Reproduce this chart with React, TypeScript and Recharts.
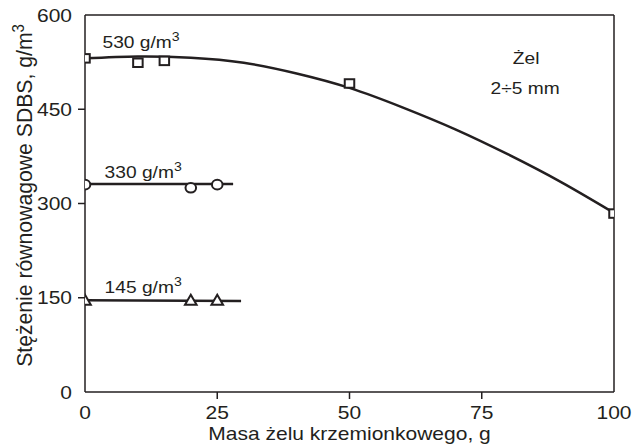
import React from 'react';
import { ComposedChart, Line, Scatter, XAxis, YAxis, ReferenceLine, ReferenceDot } from 'recharts';

const xTicks = [0, 25, 50, 75, 100];
const yTicks = [0, 150, 300, 450, 600];

const squareX = [0, 10, 15, 50, 100];
const squareY = [531, 524, 527, 491, 284];
const circleX = [0, 20, 25];
const circleY = [330, 325, 330];
const triangleX = [0, 20, 25];
const triangleY = [146, 146, 146];

const curve530X = [0, 10, 20, 30, 40, 50, 60, 70, 80, 90, 100];
const curve530Y = [531, 534, 532, 524, 507, 484, 453, 418, 378, 334, 285];
const line330X = [0, 28];
const line330Y = [331, 331];
const line145X = [0, 29.5];
const line145Y = [146, 145];

const labelTexts = ['530 g/m', '330 g/m', '145 g/m'];
const labelX = [3.3, 3.7, 3.7];
const labelY = [547, 340, 158];

const noteTexts = ['Żel', '2÷5 mm'];
const noteX = [83.4, 83.2];
const noteY = [522, 474];

const zip = (xs: number[], ys: number[]) => xs.map((x, i) => ({ x, y: ys[i] }));

const INK = '#231f20';
const FONT = '"Liberation Sans", Arial, sans-serif';
const SX = 1.13;

const ST = ({ x, y, size, anchor = 'start', dy, rotate = false, children }: any) => (
  <text
    transform={rotate ? `translate(${x} ${y}) rotate(-90) scale(1 1.06)` : `translate(${x} ${y}) scale(${SX} 1)`}
    x={0}
    y={0}
    dy={dy}
    textAnchor={anchor}
    fontSize={size}
    fontFamily={FONT}
    fill={INK}
  >
    {children}
  </text>
);

const Square = (p: any) => (
  <rect x={p.cx - 4.75} y={p.cy - 4.25} width={9.5} height={8.5} fill="#fff" stroke={INK} strokeWidth={2} />
);
const Circ = (p: any) => <ellipse cx={p.cx} cy={p.cy} rx={5.3} ry={4.8} fill="#fff" stroke={INK} strokeWidth={2} />;
const Tri = (p: any) => (
  <polygon
    points={`${p.cx - 5.8},${p.cy + 4.5} ${p.cx + 5.8},${p.cy + 4.5} ${p.cx},${p.cy - 5.5}`}
    fill="#fff"
    stroke={INK}
    strokeWidth={2}
  />
);

const YTick = (p: any) => {
  const v = p.payload.value;
  const axisX = p.x + 13;
  return (
    <g>
      {v !== 0 && v !== 600 && <line x1={axisX - 7} x2={axisX} y1={p.y} y2={p.y} stroke={INK} strokeWidth={1.5} />}
      <ST x={p.x} y={p.y} dy="0.36em" anchor="end" size={18.6}>
        {v}
      </ST>
    </g>
  );
};

const XTick = (p: any) => {
  const v = p.payload.value;
  const axisY = p.y - 14;
  return (
    <g>
      {v !== 0 && v !== 100 && <line x1={p.x} x2={p.x} y1={axisY} y2={axisY + 7} stroke={INK} strokeWidth={1.5} />}
      <ST x={p.x} y={p.y} dy="0.71em" anchor="middle" size={18.6}>
        {v}
      </ST>
    </g>
  );
};

const SupLabel = (text: string) => (props: any) => {
  const vb = props.viewBox || {};
  return (
    <ST x={vb.x} y={vb.y} size={17}>
      {text}
      <tspan dy={-7} fontSize={12.5}>3</tspan>
    </ST>
  );
};

const NoteLabel = (text: string) => (props: any) => {
  const vb = props.viewBox || {};
  return (
    <ST x={vb.x} y={vb.y} size={17} anchor="middle">
      {text}
    </ST>
  );
};

const YTitle = (props: any) => {
  const vb = props.viewBox || {};
  const x = vb.x + 32;
  const y = vb.y + vb.height / 2 - 8;
  return (
    <ST x={x} y={y} size={21.2} anchor="middle" rotate>
      Stężenie równowagowe SDBS, g/m
      <tspan dy={-8} fontSize={15}>3</tspan>
    </ST>
  );
};

const XTitle = (props: any) => {
  const vb = props.viewBox || {};
  return (
    <ST x={vb.x + vb.width / 2} y={vb.y + 48} size={18.6} anchor="middle">
      Masa żelu krzemionkowego, g
    </ST>
  );
};

export default function App() {
  return (
    <div style={{ position: 'absolute', left: 0, top: 0, background: '#fff' }}>
      <ComposedChart width={644} height={446} margin={{ top: 15, right: 30, bottom: 0, left: 0 }}>
        <XAxis
          dataKey="x"
          type="number"
          domain={[0, 100]}
          ticks={xTicks}
          tickSize={7}
          tickMargin={7}
          tickLine={false}
          height={54}
          axisLine={{ stroke: INK, strokeWidth: 1.5 }}
          tick={<XTick />}
          label={<XTitle />}
          allowDataOverflow
        />
        <YAxis
          dataKey="y"
          type="number"
          domain={[0, 600]}
          ticks={yTicks}
          tickSize={7}
          tickMargin={6}
          tickLine={false}
          width={85}
          axisLine={{ stroke: INK, strokeWidth: 1.5 }}
          tick={<YTick />}
          label={<YTitle />}
          allowDataOverflow
        />
        <ReferenceLine y={600} stroke={INK} strokeWidth={1.5} />
        <ReferenceLine x={100} stroke={INK} strokeWidth={1.5} />
        <Line data={zip(curve530X, curve530Y)} dataKey="y" type="natural" stroke={INK} strokeWidth={2.5} dot={false} isAnimationActive={false} />
        <Line data={zip(line330X, line330Y)} dataKey="y" type="linear" stroke={INK} strokeWidth={2.5} dot={false} isAnimationActive={false} />
        <Line data={zip(line145X, line145Y)} dataKey="y" type="linear" stroke={INK} strokeWidth={2.5} dot={false} isAnimationActive={false} />
        <Scatter data={zip(squareX, squareY)} dataKey="y" shape={Square} isAnimationActive={false} />
        <Scatter data={zip(circleX, circleY)} dataKey="y" shape={Circ} isAnimationActive={false} />
        <Scatter data={zip(triangleX, triangleY)} dataKey="y" shape={Tri} isAnimationActive={false} />
        {labelTexts.map((t, i) => (
          <ReferenceDot key={t} x={labelX[i]} y={labelY[i]} r={0} fill="none" stroke="none" label={SupLabel(t)} />
        ))}
        {noteTexts.map((t, i) => (
          <ReferenceDot key={t} x={noteX[i]} y={noteY[i]} r={0} fill="none" stroke="none" label={NoteLabel(t)} />
        ))}
      </ComposedChart>
    </div>
  );
}
